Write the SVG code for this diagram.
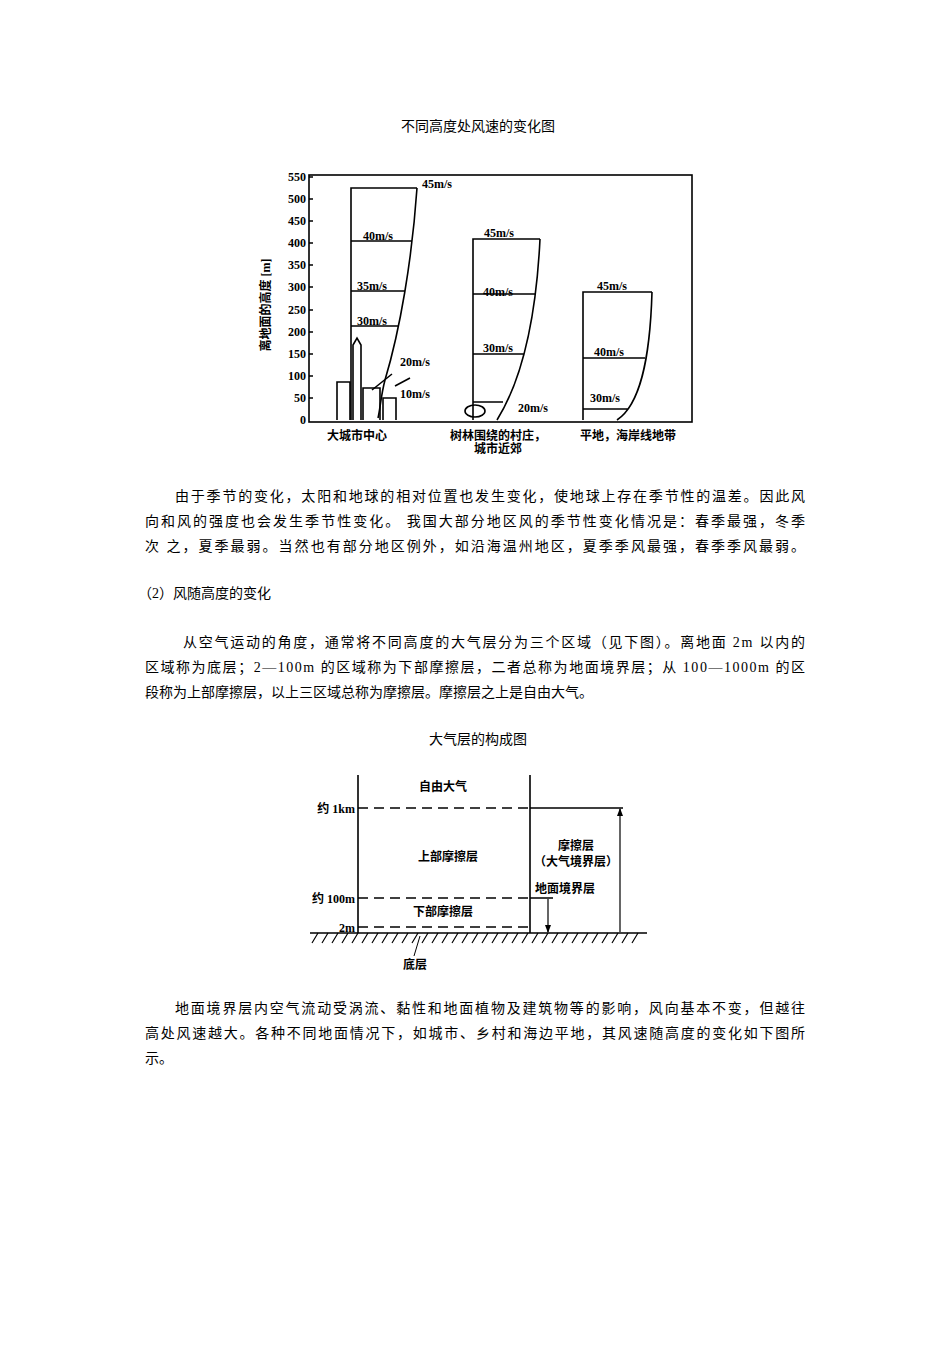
<svg xmlns="http://www.w3.org/2000/svg" width="950" height="1345" viewBox="0 0 950 1345">
<style>
text{font-family:"Liberation Serif","Noto Sans CJK SC",serif;fill:#000}
.b{font-size:14px}
.s{font-size:12px;font-weight:bold}
.l{stroke:#000;fill:none;stroke-width:1.6}
.d{stroke:#000;fill:none;stroke-width:1.6;stroke-dasharray:10,6}
</style>
<defs><marker id="a" markerWidth="8" markerHeight="8" refX="7" refY="4" orient="auto-start-reverse" markerUnits="userSpaceOnUse"><path d="M0,1L8,4L0,7z" fill="#000"/></marker></defs>
<rect width="950" height="1345" fill="#fff"/>
<text class="b" x="478" y="131" text-anchor="middle">不同高度处风速的变化图</text>
<g id="chart1">
<rect x="309" y="175" width="383" height="247" class="l"/>
<g class="s" text-anchor="end">
<text x="306" y="181">550</text><text x="306" y="203">500</text><text x="306" y="225">450</text><text x="306" y="247">400</text><text x="306" y="269">350</text><text x="306" y="291">300</text><text x="306" y="314">250</text><text x="306" y="336">200</text><text x="306" y="358">150</text><text x="306" y="380">100</text><text x="306" y="402">50</text><text x="306" y="424">0</text>
</g>
<path class="l" d="M309,177h4M309,199h4M309,221h4M309,243h4M309,265h4M309,287h4M309,310h4M309,332h4M309,354h4M309,376h4M309,398h4"/>
<text class="s" transform="translate(270,305) rotate(-90)" text-anchor="middle">离地面的高度 [m]</text>
<g id="city">
<path class="l" d="M351,420V188H417M351,241H412M351,291H405M351,326H398M417,188C412,260 400,330 385,380 381,395 380,410 378,418"/>
<path class="l" d="M337,420V382H350V420M353,420V345L357,338L361,345V420M363,420V388H380V420M383,420V398H396V420"/>
<path class="l" stroke-width="1" d="M372,390L392,374M395,386L410,378"/>
<text class="s" x="422" y="188">45m/s</text><text class="s" x="363" y="240">40m/s</text><text class="s" x="357" y="290">35m/s</text><text class="s" x="357" y="325">30m/s</text><text class="s" x="400" y="366">20m/s</text><text class="s" x="400" y="398">10m/s</text>
</g>
<g id="village">
<path class="l" d="M473,420V239H540M473,294H536M473,354H524M473,402H503M540,239C536,320 522,380 497,420"/>
<ellipse cx="475" cy="411" rx="10" ry="6" class="l" stroke-width="1"/>
<text class="s" x="484" y="237">45m/s</text><text class="s" x="483" y="296">40m/s</text><text class="s" x="483" y="352">30m/s</text><text class="s" x="518" y="412">20m/s</text>
</g>
<g id="coast">
<path class="l" d="M583,420V292H652M583,358H645M583,409H628M652,292C650,360 640,405 617,420"/>
<text class="s" x="597" y="290">45m/s</text><text class="s" x="594" y="356">40m/s</text><text class="s" x="590" y="402">30m/s</text>
</g>
<g class="s" text-anchor="middle"><text x="357" y="440">大城市中心</text><text x="498" y="440">树林围绕的村庄，</text><text x="498" y="453">城市近郊</text><text x="628" y="440">平地，海岸线地带</text></g>
</g>
<g class="b">
<text x="175" y="501" textLength="630">由于季节的变化，太阳和地球的相对位置也发生变化，使地球上存在季节性的温差。因此风</text>
<text x="145" y="526" textLength="660">向和风的强度也会发生季节性变化。 我国大部分地区风的季节性变化情况是：春季最强，冬季</text>
<text x="145" y="551" textLength="660">次 之，夏季最弱。当然也有部分地区例外，如沿海温州地区，夏季季风最强，春季季风最弱。</text>
<text x="138" y="598">（2）风随高度的变化</text>
<text x="183" y="647" textLength="622">从空气运动的角度，通常将不同高度的大气层分为三个区域（见下图）。离地面 2m 以内的</text>
<text x="145" y="672" textLength="660">区域称为底层；2—100m 的区域称为下部摩擦层，二者总称为地面境界层；从 100—1000m 的区</text>
<text x="145" y="697">段称为上部摩擦层，以上三区域总称为摩擦层。摩擦层之上是自由大气。</text>
<text x="478" y="744" text-anchor="middle">大气层的构成图</text>
<text x="175" y="1013" textLength="630">地面境界层内空气流动受涡流、黏性和地面植物及建筑物等的影响，风向基本不变，但越往</text>
<text x="145" y="1038" textLength="660">高处风速越大。各种不同地面情况下，如城市、乡村和海边平地，其风速随高度的变化如下图所</text>
<text x="145" y="1063">示。</text>
</g>
<g id="chart2">
<path class="l" d="M358,775V933M530,775V933M530,808H623M530,898H553M310,933H647"/>
<path class="d" d="M358,808H530M358,898H530M358,927H530"/>
<path stroke="#000" stroke-width="1.2" d="M312,943l6,-10M322,943l6,-10M332,943l6,-10M342,943l6,-10M352,943l6,-10M362,943l6,-10M372,943l6,-10M382,943l6,-10M392,943l6,-10M402,943l6,-10M412,943l6,-10M422,943l6,-10M432,943l6,-10M442,943l6,-10M452,943l6,-10M462,943l6,-10M472,943l6,-10M482,943l6,-10M492,943l6,-10M502,943l6,-10M512,943l6,-10M522,943l6,-10M532,943l6,-10M542,943l6,-10M552,943l6,-10M562,943l6,-10M572,943l6,-10M582,943l6,-10M592,943l6,-10M602,943l6,-10M612,943l6,-10M622,943l6,-10M632,943l6,-10"/>
<path stroke="#000" stroke-width="1.2" d="M620,809V932M548,899V932" marker-start="url(#a)" marker-end="url(#a)"/>
<path stroke="#000" stroke-width="1" d="M420,936L414,956"/>
<g class="s"><text x="443" y="791" text-anchor="middle">自由大气</text>
<text x="355" y="813" text-anchor="end">约 1km</text>
<text x="448" y="861" text-anchor="middle">上部摩擦层</text>
<text x="576" y="850" text-anchor="middle">摩擦层</text>
<text x="576" y="866" text-anchor="middle">（大气境界层）</text>
<text x="535" y="893">地面境界层</text>
<text x="355" y="903" text-anchor="end">约 100m</text>
<text x="443" y="916" text-anchor="middle">下部摩擦层</text>
<text x="355" y="932" text-anchor="end">2m</text>
<text x="415" y="969" text-anchor="middle">底层</text></g>
</g>
</svg>
